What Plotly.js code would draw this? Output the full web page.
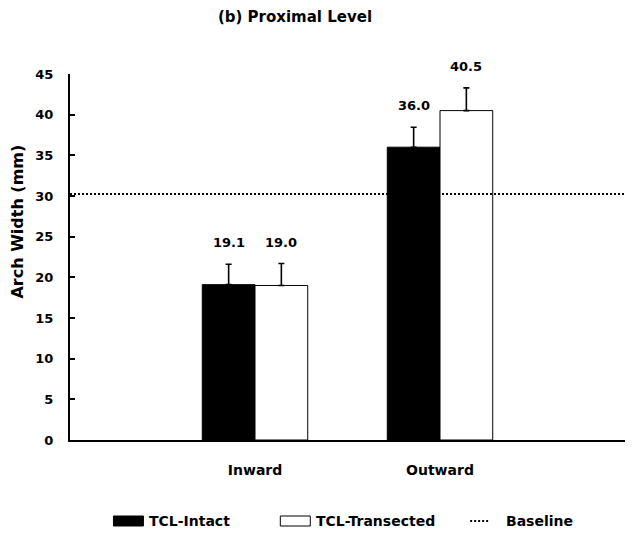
<!DOCTYPE html>
<html>
<head>
<meta charset="utf-8">
<script src="https://cdn.plot.ly/plotly-3.0.1.min.js"></script>
<style>html,body{margin:0;padding:0;background:#fff;}#chart{width:635px;height:534px;}</style>
</head>
<body>
<div id="chart"></div>
<script>
// ---- Data ----
const categories = ["Inward", "Outward"];
const intactValues = [19.1, 36.0];
const intactErrors = [2.5, 2.45];
const transectedValues = [19.0, 40.5];
const transectedErrors = [2.7, 2.8];
const baselineValue = 30.25;
const seriesNames = ["TCL-Intact", "TCL-Transected", "Baseline"];
const chartTitle = "(b) Proximal Level";
const yAxisTitle = "Arch Width (mm)";

// ---- Layout constants ----
const W = 635, H = 534;
const M = {l: 69.5, r: 10, t: 74, b: 94};
const plotW = W - M.l - M.r, plotH = H - M.t - M.b;
const px2x = p => (p - M.l) / plotW;
const py2y = p => (H - M.b - p) / plotH;
const barW = 0.285;
const xIdx = categories.map((c, i) => i);
const FONT = "DejaVu Sans, Liberation Sans, Arial, sans-serif";
const bold = (size) => ({family: FONT, size: size, color: "#000", weight: "bold"});

const traces = [
  {
    type: "bar", name: seriesNames[0], x: xIdx, y: intactValues,
    width: barW, offset: -barW,
    marker: {color: "#000", line: {color: "#000", width: 1}},
    error_y: {type: "data", symmetric: false, array: intactErrors, arrayminus: intactErrors.map(() => 0),
              color: "#000", thickness: 1.6, width: 3},
    showlegend: false, hoverinfo: "skip"
  },
  {
    type: "bar", name: seriesNames[1], x: xIdx, y: transectedValues,
    width: barW, offset: 0,
    marker: {color: "#fff", line: {color: "#000", width: 1}},
    error_y: {type: "data", symmetric: false, array: transectedErrors, arrayminus: transectedErrors.map(() => 0),
              color: "#000", thickness: 1.6, width: 3},
    showlegend: false, hoverinfo: "skip"
  }
];

const annotations = [];
intactValues.forEach((v, i) => annotations.push({
  x: i - barW / 2, y: v + intactErrors[i], xref: "x", yref: "y",
  text: v.toFixed(1), showarrow: false, yanchor: "bottom", yshift: 12, font: bold(13)
}));
transectedValues.forEach((v, i) => annotations.push({
  x: i + barW / 2, y: v + transectedErrors[i], xref: "x", yref: "y",
  text: v.toFixed(1), showarrow: false, yanchor: "bottom", yshift: 12, font: bold(13)
}));

// y-axis title
annotations.push({xref: "paper", yref: "paper", x: px2x(16), y: py2y(222), textangle: -90,
  xanchor: "center", yanchor: "middle", text: yAxisTitle, showarrow: false, font: bold(16)});

// custom legend
const legY = 521;
const legendItems = [
  {kind: "fill", color: "#000", x0: 113, x1: 143, tx: 147, name: seriesNames[0]},
  {kind: "fill", color: "#fff", x0: 280, x1: 310, tx: 314, name: seriesNames[1]},
  {kind: "dot", x0: 470, x1: 488, tx: 504, name: seriesNames[2]}
];
const shapes = [
  {type: "line", xref: "paper", yref: "y", x0: 0, x1: 1, y0: baselineValue, y1: baselineValue,
   line: {color: "#000", width: 2, dash: "2px,2px"}}
];
legendItems.forEach(it => {
  if (it.kind === "fill") {
    shapes.push({type: "rect", xref: "paper", yref: "paper",
      x0: px2x(it.x0), x1: px2x(it.x1), y0: py2y(legY + 5), y1: py2y(legY - 5),
      fillcolor: it.color, line: {color: "#000", width: 1}});
  } else {
    shapes.push({type: "line", xref: "paper", yref: "paper",
      x0: px2x(it.x0), x1: px2x(it.x1), y0: py2y(legY), y1: py2y(legY),
      line: {color: "#000", width: 2, dash: "2px,2px"}});
  }
  annotations.push({xref: "paper", yref: "paper", x: px2x(it.tx), y: py2y(legY),
    xanchor: "left", yanchor: "middle", text: it.name, showarrow: false, font: bold(14)});
});

const layout = {
  width: W, height: H,
  margin: M,
  paper_bgcolor: "#fff", plot_bgcolor: "#fff",
  showlegend: false,
  title: {text: chartTitle, font: bold(15), xref: "container", x: 295 / W, xanchor: "center",
          yref: "container", y: 1 - 17 / H, yanchor: "middle"},
  xaxis: {
    range: [-1, 2], tickvals: xIdx, ticktext: categories,
    showline: true, linecolor: "#000", linewidth: 2, ticks: "", showgrid: false, zeroline: false,
    tickfont: bold(14), ticklabelstandoff: 16, fixedrange: true
  },
  yaxis: {
    range: [0, 45], dtick: 5, tick0: 0,
    showline: true, linecolor: "#000", linewidth: 2, ticks: "inside", ticklen: 5, tickwidth: 2, tickcolor: "#000",
    showgrid: false, zeroline: false, tickfont: bold(13), ticklabelstandoff: 12, fixedrange: true
  },
  shapes: shapes,
  annotations: annotations
};

Plotly.newPlot("chart", traces, layout, {displayModeBar: false, staticPlot: true});
</script>
</body>
</html>
